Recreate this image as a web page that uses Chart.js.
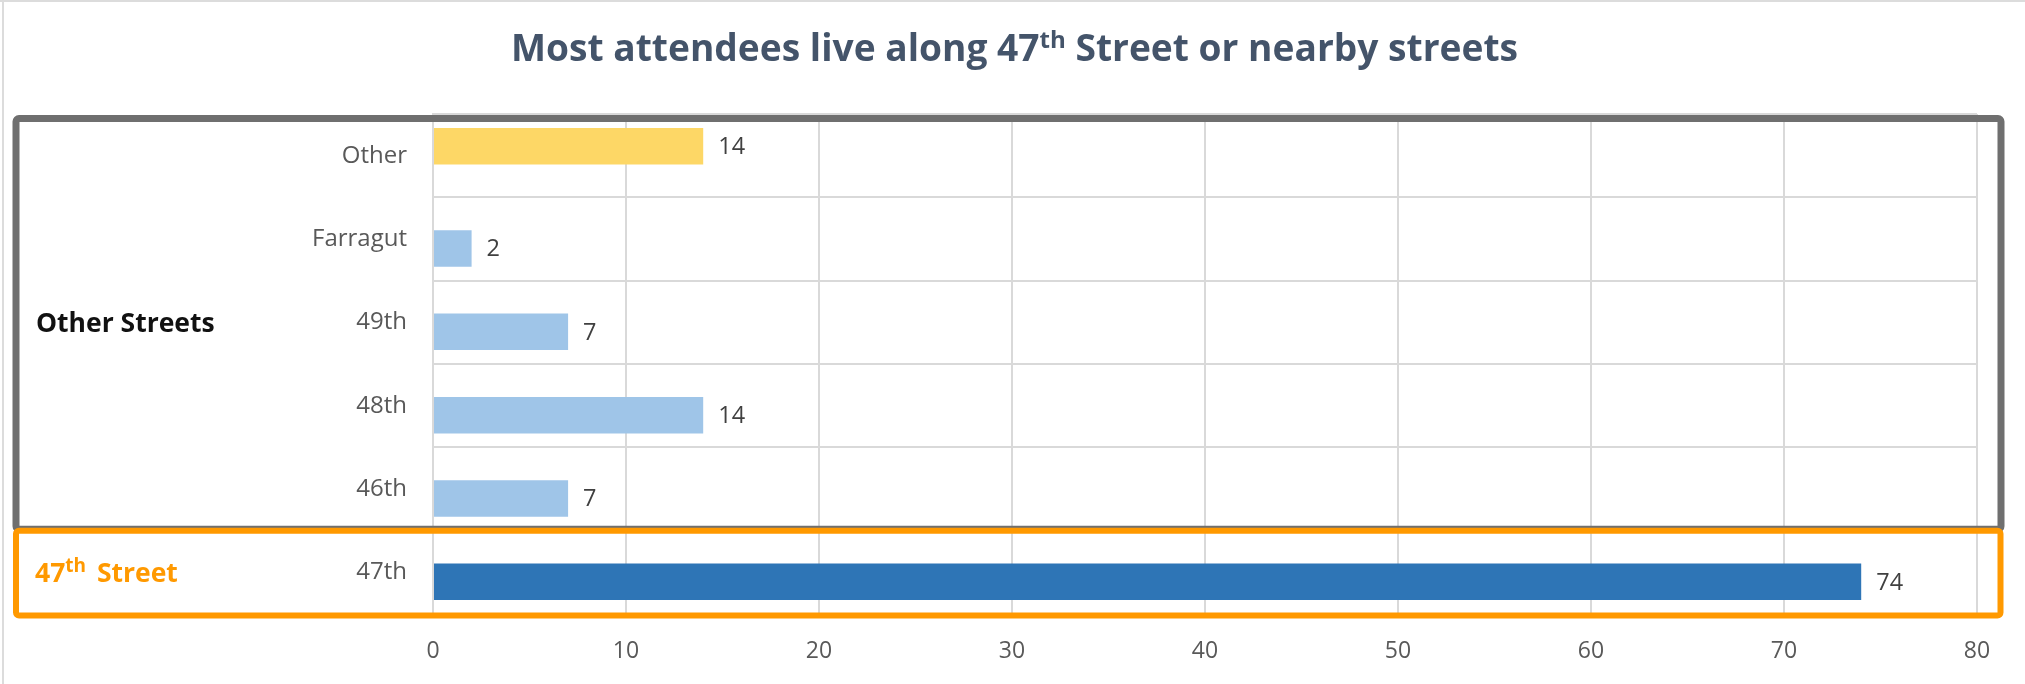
<!DOCTYPE html>
<html>
<head>
<meta charset="utf-8">
<script src="https://cdn.jsdelivr.net/npm/chart.js@4.4.1/dist/chart.umd.min.js"></script>
<style>
  html, body { margin: 0; padding: 0; background: #fff; }
</style>
</head>
<body>
<canvas id="chart" width="2025" height="684"></canvas>
<script>
// data
const categories = ['Other', 'Farragut', '49th', '48th', '46th', '47th'];
const otherValues = [14, null, null, null, null, null];
const streetValues = [null, 2, 7, 14, 7, 74];
const xMin = 0, xMax = 80, xStep = 10;

// title / group label pieces (sup = superscript)
const titleParts = [{ t: 'Most attendees live along 47' }, { t: 'th', sup: true }, { t: ' Street or nearby streets' }];
const otherGroupParts = [{ t: 'Other Streets' }];
const mainGroupParts = [{ t: '47' }, { t: 'th', sup: true }, { t: ' Street' }];
const highlightStreet = '47th';

const ORANGE = '#FF9900';
const GREY_BOX = '#6F6F6F';
const GRID = '#D9D9D9';
const FONT = "'Open Sans', sans-serif";

function partsWidth(ctx, parts, size, weight, supRatio) {
    let w = 0;
    parts.forEach(p => {
        ctx.font = `${weight} ${p.sup ? Math.round(size * supRatio) : size}px ${FONT}`;
        w += ctx.measureText(p.t).width;
    });
    return w;
}

function drawParts(ctx, parts, x, y, size, weight, color, supRatio, supGap) {
    ctx.fillStyle = color;
    ctx.textBaseline = 'alphabetic';
    ctx.textAlign = 'left';
    parts.forEach(p => {
        const s = p.sup ? Math.round(size * supRatio) : size;
        ctx.font = `${weight} ${s}px ${FONT}`;
        ctx.fillText(p.t, x, p.sup ? y - size * 0.36 : y);
        x += ctx.measureText(p.t).width + (p.sup ? supGap : 0);
    });
}

const decorPlugin = {
    id: 'decor',
    beforeDraw(chart) {
        const ctx = chart.ctx;
        ctx.save();
        ctx.fillStyle = '#DCDCDC';
        ctx.fillRect(0, 0, chart.width, 2);
        ctx.fillRect(2, 0, 2, chart.height);

        // title, fitted to the reference width
        const size = 37;
        const natural = partsWidth(ctx, titleParts, size, 'bold', 0.64);
        const target = 1007;
        const sx = target / natural;
        ctx.translate(chart.width / 2 + 2 - target / 2, 61);
        ctx.scale(sx, 1);
        drawParts(ctx, titleParts, 0, 0, size, 'bold', '#44546A', 0.64, 0);
        ctx.restore();
    },
    afterDatasetsDraw(chart) {
        const ctx = chart.ctx;
        ctx.save();
        ctx.font = `23.5px ${FONT}`;
        ctx.fillStyle = '#404040';
        ctx.textBaseline = 'middle';
        ctx.textAlign = 'left';
        chart.data.datasets.forEach((ds, di) => {
            const meta = chart.getDatasetMeta(di);
            meta.data.forEach((bar, i) => {
                const v = ds.data[i];
                if (v === null || v === undefined) return;
                ctx.fillText(String(v), bar.x + 15, bar.y + 1);
            });
        });
        ctx.restore();
    },
    afterDraw(chart) {
        const ctx = chart.ctx;
        const y = chart.scales.y;
        const area = chart.chartArea;
        const split = (y.getPixelForValue(4) + y.getPixelForValue(5)) / 2;
        ctx.save();
        // grey group box
        ctx.strokeStyle = GREY_BOX;
        ctx.lineWidth = 7;
        ctx.beginPath();
        ctx.roundRect(16, area.top + 4.5, 1985, split - area.top - 6, 3);
        ctx.stroke();
        // orange group box
        ctx.strokeStyle = ORANGE;
        ctx.lineWidth = 6;
        ctx.beginPath();
        ctx.roundRect(16, split, 1984.5, area.bottom + 1.5 - split, 3);
        ctx.stroke();

        // group labels
        const gSize = 26.5;
        const otherMid = (area.top + split) / 2;
        drawParts(ctx, otherGroupParts, 36, otherMid + 9.5, gSize, 'bold', '#111111', 0.7, 0);
        const mainMid = (split + area.bottom) / 2;
        drawParts(ctx, mainGroupParts, 35, mainMid + 9.5, gSize, 'bold', ORANGE, 0.7, 4);
        ctx.restore();
    }
};

const ctx = document.getElementById('chart').getContext('2d');
new Chart(ctx, {
    type: 'bar',
    data: {
        labels: categories,
        datasets: [
            {
                label: 'Other',
                data: otherValues,
                backgroundColor: '#FDD766',
                categoryPercentage: 0.456,
                barPercentage: 1.92
            },
            {
                label: 'Street',
                data: streetValues,
                backgroundColor: categories.map(c => c === highlightStreet ? '#2E75B6' : '#9FC5E8'),
                categoryPercentage: 0.456,
                barPercentage: 1.92
            }
        ]
    },
    options: {
        indexAxis: 'y',
        responsive: false,
        animation: false,
        layout: { padding: { top: 114, right: 48, left: 0, bottom: 0 } },
        plugins: {
            legend: { display: false },
            tooltip: { enabled: false },
            title: { display: false }
        },
        scales: {
            x: {
                min: xMin,
                max: xMax,
                ticks: { stepSize: xStep, padding: 24, color: '#595959', font: { family: FONT, size: 23 } },
                grid: { color: GRID, lineWidth: 2, drawTicks: false },
                border: { display: false },
                afterFit: s => { s.height = 70; }
            },
            y: {
                ticks: { padding: 26, color: '#595959', font: { family: FONT, size: 24 } },
                grid: { color: GRID, lineWidth: 2, drawTicks: false, offset: true },
                border: { display: true, color: GRID, width: 2 },
                afterFit: s => { s.width = 433; }
            }
        }
    },
    plugins: [decorPlugin]
});
</script>
</body>
</html>
